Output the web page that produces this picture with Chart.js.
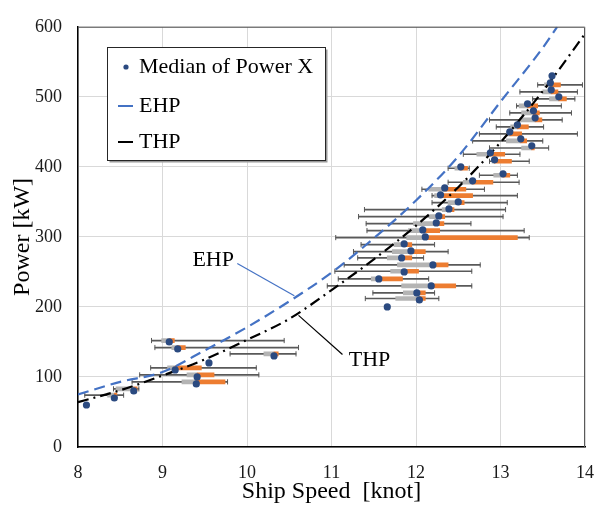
<!DOCTYPE html>
<html>
<head>
<meta charset="utf-8">
<script src="https://cdn.jsdelivr.net/npm/chart.js@4/dist/chart.umd.min.js"></script>
<style>
  html, body { margin: 0; padding: 0; background: #fff; }
  #wrap { width: 609px; height: 506px; }
</style>
</head>
<body>
<div id="wrap"><canvas id="chart" width="609" height="506"></canvas></div>
<script>
// axis ticks
const speedTicks = [8, 9, 10, 11, 12, 13, 14];
const powerTicks = [0, 100, 200, 300, 400, 500, 600];

// speed spread per power bin (knot): whisker min, box low, median, box high, whisker max
const binPower = [517, 507, 497, 487, 477, 467, 457, 447, 437, 427, 418, 408, 398, 388, 378, 368, 359, 349, 339, 329, 319, 309, 299, 289, 279, 270, 260, 251, 240, 230, 220, 212,
  152, 142, 133, 113, 103, 93, 83, 74];
const speedMin = [13.44, 13.23, 13.38, 13.19, 13.11, 12.87, 12.95, 12.75, 12.67, 12.87, 12.56, 12.87, 12.38, 12.75, 12.38, 12.07, 12.19, 12.19, 11.39, 11.32, 11.41, 11.42, 11.05, 11.35, 11.26, 11.31, 11.15, 11.04, 11.08, 10.95, 11.49, 11.40,
  8.87, 8.91, 9.80, 8.86, 8.73, 8.64, 8.42, 8.08];
const speedLow = [13.52, 13.50, 13.58, 13.22, 13.25, 13.23, 13.12, 13.07, 13.07, 13.25, 12.72, 12.90, 12.46, 12.92, 12.56, 12.15, 12.22, 12.38, 12.31, 12.16, 11.97, 11.91, 11.89, 11.74, 11.72, 11.66, 11.78, 11.70, 11.47, 11.83, 11.85, 11.76,
  8.99, 9.11, 10.20, 9.06, 9.29, 9.23, 8.45, 8.35];
const speedMid = [13.59, 13.60, 13.69, 13.32, 13.39, 13.41, 13.20, 13.11, 13.24, 13.37, 12.88, 12.93, 12.53, 13.03, 12.67, 12.34, 12.29, 12.50, 12.39, 12.27, 12.24, 12.08, 12.11, 11.86, 11.94, 11.83, 12.20, 11.86, 11.56, 12.18, 12.01, 12.04,
  9.08, 9.18, 10.32, 9.15, 9.41, 9.40, 8.66, 8.43];
const speedHigh = [13.71, 13.68, 13.78, 13.44, 13.46, 13.49, 13.33, 13.25, 13.31, 13.40, 13.05, 13.13, 12.61, 13.11, 12.91, 12.59, 12.67, 12.57, 12.45, 12.34, 12.33, 12.28, 13.20, 11.95, 12.11, 11.95, 12.38, 12.03, 11.84, 12.47, 12.11, 12.11,
  9.14, 9.27, 10.37, 9.46, 9.61, 9.74, 8.70, 8.46];
const speedMax = [13.97, 13.91, 13.88, 13.72, 13.84, 13.73, 13.51, 13.91, 13.50, 13.57, 13.23, 13.34, 12.63, 13.20, 13.22, 12.81, 13.20, 13.08, 13.06, 13.03, 12.65, 13.28, 13.34, 12.22, 12.38, 12.09, 12.76, 12.66, 12.15, 12.66, 12.22, 12.27,
  10.44, 10.61, 10.58, 10.11, 10.14, 9.77, 8.72, 8.54];

// median of power X
const medianSpeed = [13.61, 13.59, 13.60, 13.69, 13.32, 13.39, 13.41, 13.20, 13.11, 13.24, 13.37, 12.88, 12.93, 12.53, 13.03, 12.67, 12.34, 12.29, 12.50, 12.39, 12.27, 12.24, 12.08, 12.11, 11.86, 11.94, 11.83, 12.20, 11.86, 11.56, 12.18, 12.01, 12.04, 11.66,
  9.08, 9.18, 10.32, 9.55, 9.15, 9.41, 9.40, 8.66, 8.43, 8.10];
const medianPower = [530, 520, 510, 500, 490, 480, 470, 460, 450, 440, 430, 420, 410, 400, 390, 380, 370, 360, 350, 340, 330, 320, 310, 300, 290, 280, 270, 260, 250, 240, 230, 220, 210, 200,
  150, 140, 130, 120, 110, 100, 90, 80, 70, 60];

// EHP / THP curves
const ehpSpeed = [8.0, 8.5, 9.0, 9.5, 10.0, 10.5, 11.0, 11.5, 12.0, 12.5, 13.0, 13.5, 13.67];
const ehpPower = [75, 93, 107, 138, 171, 208, 249, 298, 352, 415, 493, 570, 600];
const thpSpeed = [8.0, 8.5, 9.0, 9.5, 10.0, 10.5, 11.0, 11.5, 12.0, 12.5, 13.0, 13.5, 14.0];
const thpPower = [64, 81, 102, 125, 153, 183, 224, 268, 316, 371, 435, 508, 590];

// callout labels (text anchor, leader from, leader to) in data units
const ehpCallout = { text: [9.60, 266], from: [9.885, 262], to: [10.56, 216] };
const thpCallout = { text: [11.45, 124], from: [10.61, 188], to: [11.13, 132] };

const BLUE = '#4472C4';
const NAVY = '#2B4A80';
const SERIF = "'Liberation Serif', 'Times New Roman', serif";

const pts = (xs, ys) => xs.map((v, i) => ({ x: v, y: ys[i] }));
const ranges = (lo, hi) => binPower.map((p, i) => ({ x: [lo[i], hi[i]], y: p }));

const caps = [];
binPower.forEach((p, i) => {
  caps.push({ x: speedMin[i], y: p });
  caps.push({ x: speedMax[i], y: p });
});

const overlay = {
  id: 'overlay',
  afterDraw(chart) {
    const { ctx, chartArea: a, scales: { x, y } } = chart;
    ctx.save();

    // top and right frame
    ctx.strokeStyle = '#595959';
    ctx.lineWidth = 1;
    ctx.beginPath();
    ctx.moveTo(a.left, a.top + 0.5);
    ctx.lineTo(a.right - 0.5, a.top + 0.5);
    ctx.lineTo(a.right - 0.5, a.bottom);
    ctx.stroke();

    // callouts
    ctx.font = '22px ' + SERIF;
    ctx.fillStyle = '#000';
    ctx.textBaseline = 'middle';
    [[ehpCallout, BLUE, 'EHP'], [thpCallout, '#000', 'THP']].forEach(([c, col, label]) => {
      ctx.strokeStyle = col;
      ctx.lineWidth = 1.2;
      ctx.beginPath();
      ctx.moveTo(x.getPixelForValue(c.from[0]), y.getPixelForValue(c.from[1]));
      ctx.lineTo(x.getPixelForValue(c.to[0]), y.getPixelForValue(c.to[1]));
      ctx.stroke();
      ctx.textAlign = 'center';
      ctx.fillText(label, x.getPixelForValue(c.text[0]), y.getPixelForValue(c.text[1]));
    });

    // legend box
    const bx = 107.5, by = 47.5, bw = 218, bh = 113;
    ctx.fillStyle = '#9a9a9a';
    ctx.fillRect(bx + 2, by + 2, bw, bh);
    ctx.fillStyle = '#fff';
    ctx.fillRect(bx, by, bw, bh);
    ctx.strokeStyle = '#262626';
    ctx.lineWidth = 1;
    ctx.strokeRect(bx, by, bw, bh);

    ctx.textAlign = 'left';
    ctx.fillStyle = NAVY;
    ctx.beginPath();
    ctx.arc(126, 67, 2.6, 0, Math.PI * 2);
    ctx.fill();
    ctx.lineWidth = 2;
    ctx.strokeStyle = BLUE;
    ctx.beginPath(); ctx.moveTo(118, 106); ctx.lineTo(133, 106); ctx.stroke();
    ctx.strokeStyle = '#000';
    ctx.beginPath(); ctx.moveTo(118, 142); ctx.lineTo(133, 142); ctx.stroke();

    ctx.fillStyle = '#000';
    ctx.fillText('Median of Power X', 139, 67);
    ctx.fillText('EHP', 139, 106);
    ctx.fillText('THP', 139, 142);
    ctx.restore();
  }
};

const barCommon = { type: 'bar', indexAxis: 'y', grouped: false, borderWidth: 0 };

new Chart(document.getElementById('chart'), {
  type: 'scatter',
  data: {
    datasets: [
      { type: 'scatter', label: 'Median of Power X', data: pts(medianSpeed, medianPower), order: 0,
        pointRadius: 3.6, pointBackgroundColor: NAVY, pointBorderWidth: 0 },
      { type: 'line', label: 'EHP', data: pts(ehpSpeed, ehpPower), order: 1,
        borderColor: BLUE, borderWidth: 2.2, borderDash: [11, 6], pointRadius: 0,
        cubicInterpolationMode: 'monotone', fill: false },
      { type: 'line', label: 'THP', data: pts(thpSpeed, thpPower), order: 1,
        borderColor: '#000', borderWidth: 2.2, borderDash: [11, 5, 2, 5], pointRadius: 0,
        cubicInterpolationMode: 'monotone', fill: false },
      { ...barCommon, label: 'upper', data: ranges(speedMid, speedHigh), order: 2,
        backgroundColor: '#ED7D31', barThickness: 4 },
      { ...barCommon, label: 'lower', data: ranges(speedLow, speedMid), order: 3,
        backgroundColor: '#B4B4B4', barThickness: 4 },
      { type: 'scatter', label: 'caps', data: caps, order: 4,
        pointStyle: 'line', rotation: 90, pointRadius: 2.6, borderColor: '#595959', borderWidth: 1 },
      { ...barCommon, label: 'range', data: ranges(speedMin, speedMax), order: 5,
        backgroundColor: '#595959', barThickness: 1 }
    ]
  },
  options: {
    responsive: false,
    animation: false,
    devicePixelRatio: 1,
    layout: { padding: { top: 7, right: 9, left: 0, bottom: 0 } },
    plugins: { legend: { display: false }, tooltip: { enabled: false } },
    scales: {
      x: {
        type: 'linear', min: 8, max: 14, offset: false,
        afterBuildTicks: s => { s.ticks = speedTicks.map(v => ({ value: v })); },
        afterFit: s => { s.height = 59; },
        grid: { color: '#D9D9D9', drawTicks: false, offset: false },
        border: { color: '#000', width: 1.5 },
        ticks: { padding: 15, color: '#1a1a1a', font: { family: SERIF, size: 18 } },
        title: { display: true, text: 'Ship Speed  [knot]', color: '#000', padding: { top: 0, bottom: 0 },
          font: { family: SERIF, size: 24 } }
      },
      y: {
        type: 'linear', min: 0, max: 600, offset: false,
        afterBuildTicks: s => { s.ticks = powerTicks.map(v => ({ value: v })); },
        afterFit: s => { s.width = 78; },
        grid: { color: '#D9D9D9', drawTicks: false, offset: false },
        border: { color: '#000', width: 1.5 },
        ticks: { padding: 16, color: '#1a1a1a', font: { family: SERIF, size: 18 } },
        title: { display: true, text: 'Power [kW]', color: '#000', padding: { top: 8, bottom: 0 },
          font: { family: SERIF, size: 24 } }
      }
    }
  },
  plugins: [overlay]
});
</script>
</body>
</html>
